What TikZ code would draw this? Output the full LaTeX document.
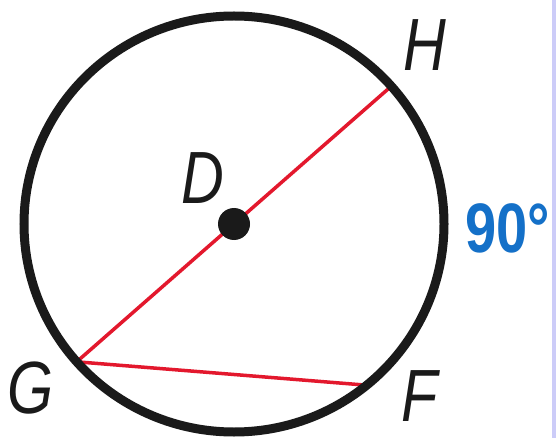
\documentclass[tikz,border=0pt]{standalone}
\usepackage{fontspec}
\setmainfont{Liberation Sans}[FakeStretch=0.8]
\definecolor{chordred}{HTML}{E3182D}
\definecolor{arcblue}{HTML}{1470C8}
\definecolor{inkblack}{HTML}{1A1A1A}
\definecolor{edgelav}{HTML}{CCCCF8}
\begin{document}
\begin{tikzpicture}[x=1pt,y=-1pt,
  lbl/.style={inner sep=0pt,text=inkblack,font=\fontsize{74}{74}\selectfont\itshape},
  arclbl/.style={inner sep=0pt,text=arcblue,font=\fontsize{70}{70}\selectfont\bfseries},
  chord/.style={draw=chordred,line width=3.5pt,line cap=round},
  rim/.style={draw=inkblack,line width=9pt}]
\useasboundingbox (0,0) rectangle (556,438);
\fill[white] (0,0) rectangle (556,438);
\fill[edgelav] (552,0) rectangle (556,438);
\coordinate (Dc) at (234,224);
\coordinate (Hp) at (391.3,86.2);
\coordinate (Gp) at (76.7,361.8);
\coordinate (Fp) at (366.7,385.2);
\draw[chord] (Gp) -- (Hp);
\draw[chord] (Gp) -- (Fp);
\draw[rim] (Dc) ellipse [x radius=210, y radius=208];
\node[circle,fill=inkblack,inner sep=0pt,minimum size=32pt] (D) at (Dc) {};
\node[lbl] (Hl) at (425,45) {H};
\node[lbl] (Dl) at (203,178) {D};
\node[lbl] (Gl) at (31,388) {G};
\node[lbl] (Fl) at (420,396) {F};
\node[arclbl] (arc) at (508,228) {90°};
\end{tikzpicture}
\end{document}
